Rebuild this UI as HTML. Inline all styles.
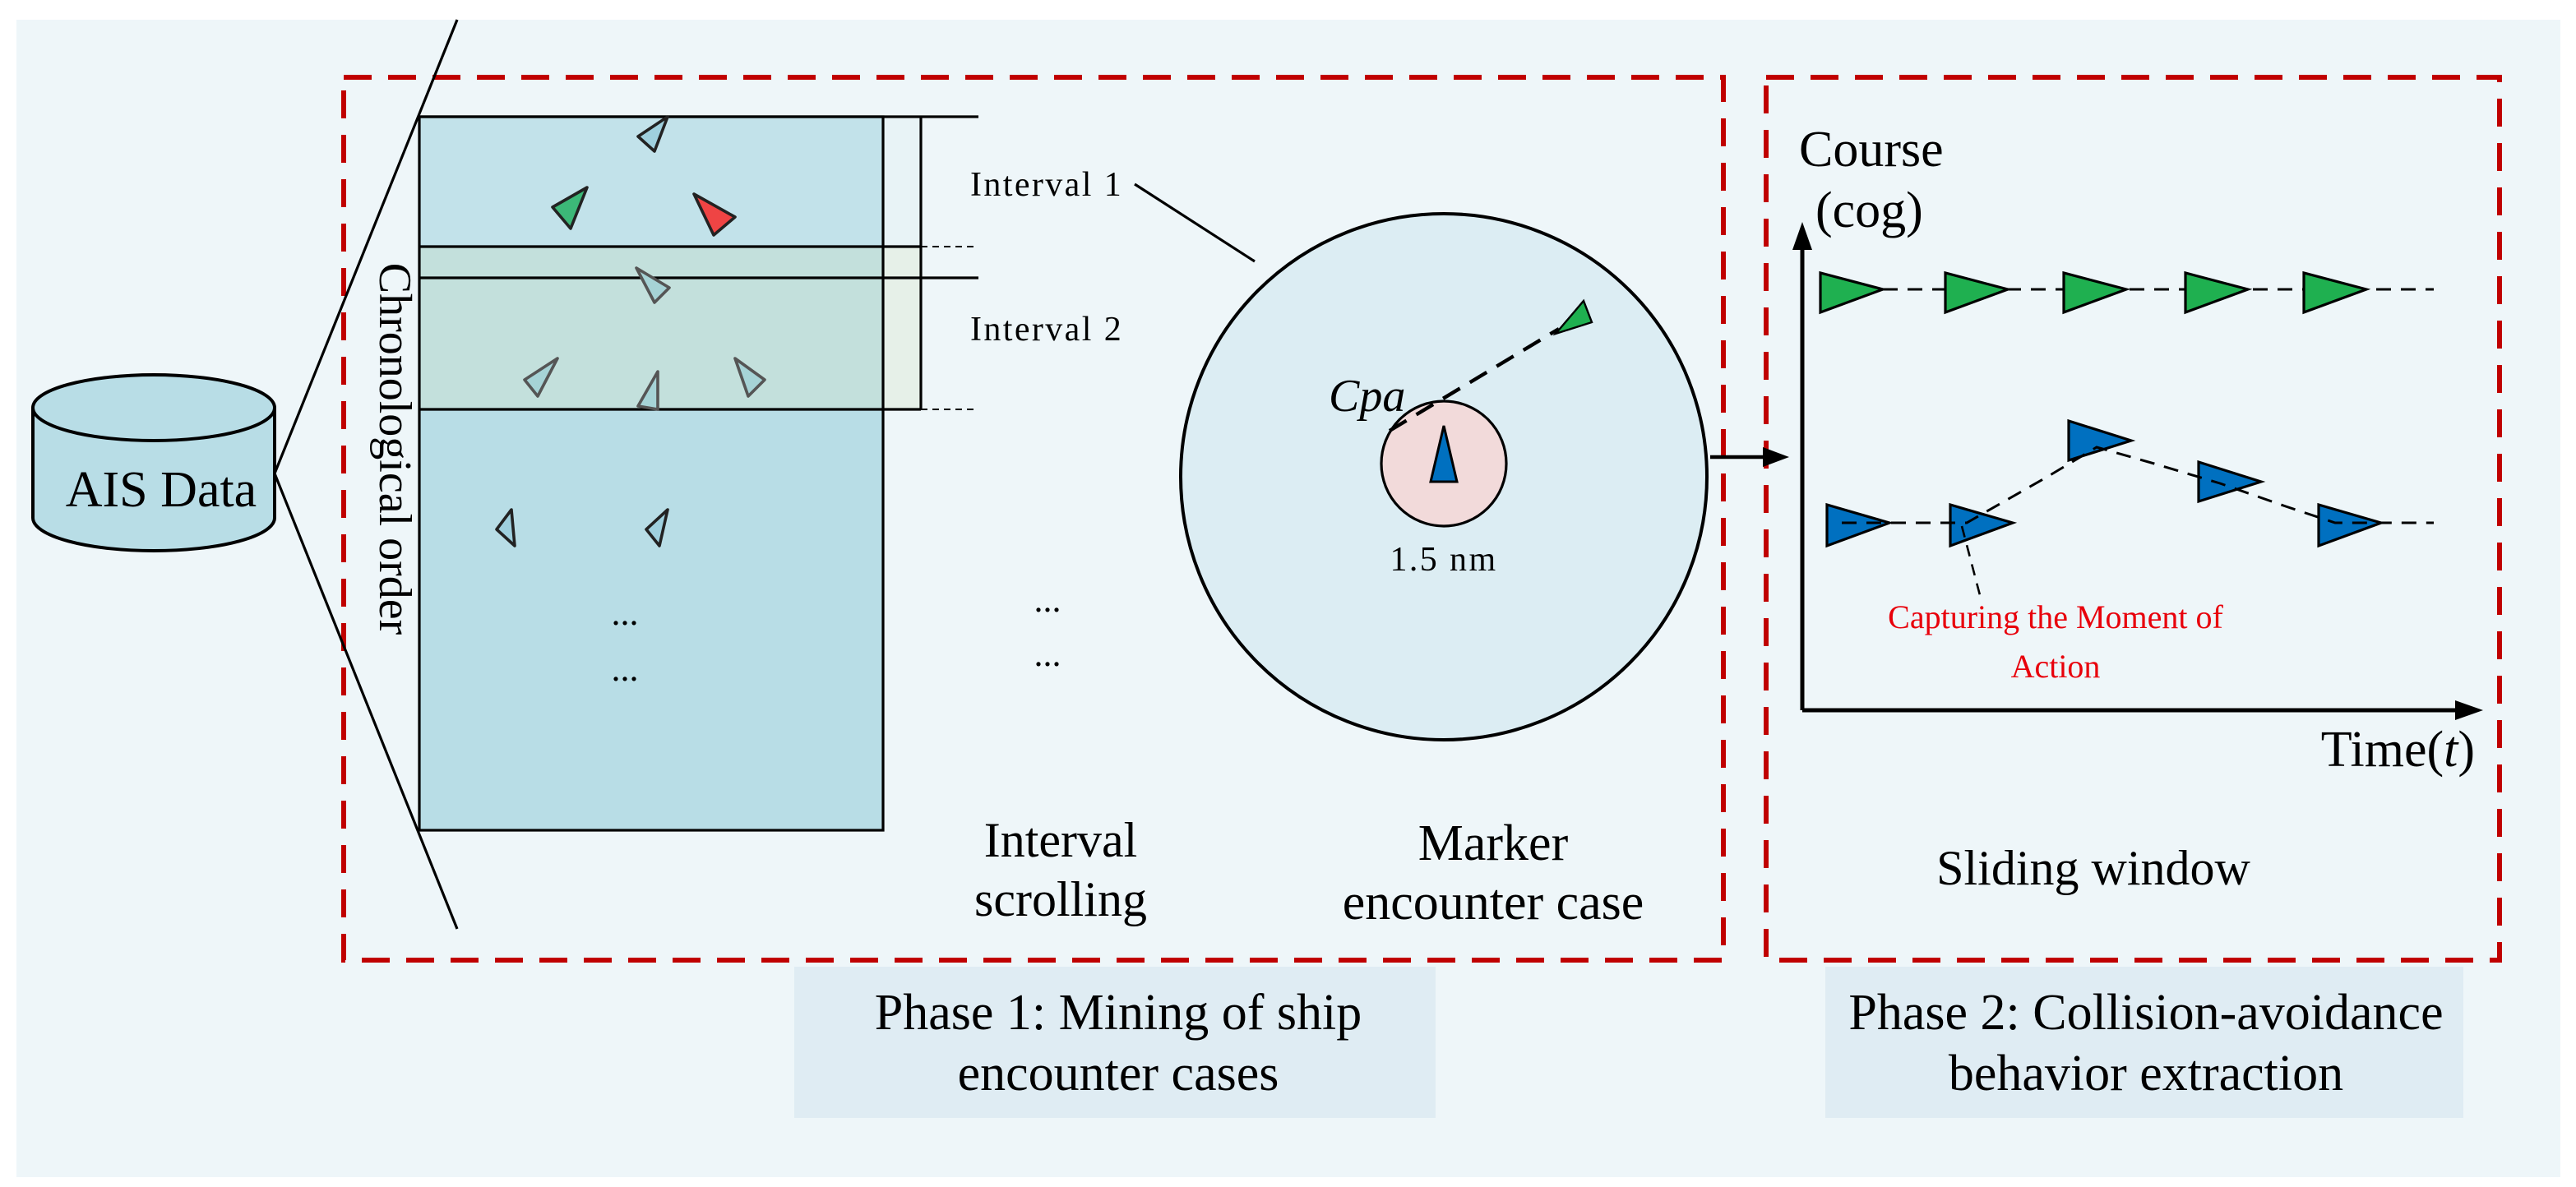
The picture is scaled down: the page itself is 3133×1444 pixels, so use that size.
<!DOCTYPE html>
<html><head><meta charset="utf-8"><style>html,body{margin:0;padding:0;background:#fff}svg{display:block}text{font-family:"Liberation Serif",serif;fill:#000}</style></head>
<body>
<svg width="3133" height="1444" viewBox="0 0 1566.5 722" xmlns="http://www.w3.org/2000/svg">
<rect x="10" y="12" width="1547" height="704" fill="#eef6f9"/>
<g fill="none" stroke="#c00000" stroke-width="3" stroke-dasharray="17 10">
<rect x="209" y="47" width="839" height="537"/>
<rect x="1074" y="47" width="446" height="537"/>
</g>
<path d="M20 248 L20 315 A73.5 20 0 0 0 167 315 L167 248" fill="#b8dde6" stroke="#000" stroke-width="2"/>
<ellipse cx="93.5" cy="248" rx="73.5" ry="20" fill="#b8dde6" stroke="#000" stroke-width="2"/>
<text x="98" y="308" font-size="31" text-anchor="middle">AIS  Data</text>
<line x1="167" y1="288" x2="278" y2="12" stroke="#000" stroke-width="1.6"/>
<line x1="167" y1="288" x2="278" y2="565" stroke="#000" stroke-width="1.6"/>
<rect x="255" y="71" width="282" height="434" fill="#b8dde6"/>
<rect x="255" y="71" width="282" height="79" fill="#c2e2ea"/>
<rect x="537" y="71" width="23" height="79" fill="#e8f3f6"/>
<rect x="255" y="150" width="305" height="99" fill="#c3e0dc"/>
<rect x="537" y="150" width="23" height="99" fill="#e6f0e8"/>
<g stroke="#000" stroke-width="1.6" fill="none">
<rect x="255" y="71" width="282" height="434"/>
<line x1="255" y1="71" x2="595" y2="71"/>
<line x1="255" y1="169" x2="595" y2="169"/>
<line x1="255" y1="150" x2="560" y2="150"/>
<line x1="255" y1="249" x2="560" y2="249"/>
<line x1="560" y1="71" x2="560" y2="249"/>
</g>
<g stroke="#000" stroke-width="1" stroke-dasharray="4 3">
<line x1="560" y1="150" x2="595" y2="150"/><line x1="560" y1="249" x2="595" y2="249"/>
</g>
<text transform="translate(231,273) rotate(90)" font-size="28" text-anchor="middle">Chronological order</text>
<g stroke="#222" stroke-width="1.8" stroke-linejoin="round">
<polygon points="406,71 388,83 398,92" fill="#9fd0de"/>
<polygon points="357,114 336,126 347,139" fill="#3cb878"/>
<polygon points="422,118 447,132 434,143" fill="#ef4444"/>
<polygon points="311,310 302,322 313,332" fill="#9fd0de"/>
<polygon points="406,310 393,322 401,332" fill="#9fd0de"/>
</g>
<g stroke="#555" stroke-width="1.8" stroke-linejoin="round" fill="#a6d3d6">
<polygon points="387,163 407,175 398,184"/>
<polygon points="339,218 319,231 327,241"/>
<polygon points="447,218 465,231 455,241"/>
<polygon points="400,226 388,247 400,249"/>
</g>
<text x="380" y="380" font-size="22" text-anchor="middle">...</text>
<text x="380" y="414" font-size="22" text-anchor="middle">...</text>
<text x="590" y="119" font-size="21" letter-spacing="1.2">Interval 1</text>
<text x="590" y="207" font-size="21" letter-spacing="1.2">Interval 2</text>
<text x="637" y="372" font-size="22" text-anchor="middle">...</text>
<text x="637" y="405" font-size="22" text-anchor="middle">...</text>
<text x="645" y="521" font-size="30" text-anchor="middle">Interval</text>
<text x="645" y="557" font-size="30" text-anchor="middle">scrolling</text>
<text x="908" y="523" font-size="31" text-anchor="middle">Marker</text>
<text x="908" y="559" font-size="31" text-anchor="middle">encounter case</text>
<line x1="690" y1="112" x2="763" y2="159" stroke="#000" stroke-width="1.6"/>
<circle cx="878" cy="290" r="160" fill="#dcedf3" stroke="#000" stroke-width="2"/>
<circle cx="878" cy="282" r="38" fill="#f2dada" stroke="#000" stroke-width="1.6"/>
<line x1="845" y1="262" x2="948" y2="200" stroke="#000" stroke-width="2.2" stroke-dasharray="12 7"/>
<polygon points="946,203 963,183 968,196" fill="#1fb050" stroke="#000" stroke-width="1.2"/>
<polygon points="878,259 870,293 886,293" fill="#0070c0" stroke="#000" stroke-width="1.5"/>
<text x="808" y="250" font-size="28" font-style="italic">Cpa</text>
<text x="878" y="347" font-size="21" text-anchor="middle" letter-spacing="1.2">1.5 nm</text>
<line x1="1040" y1="278" x2="1074" y2="278" stroke="#000" stroke-width="2.2"/>
<polygon points="1072,272 1088,278 1072,284" fill="#000"/>
<line x1="1096" y1="432" x2="1096" y2="150" stroke="#000" stroke-width="2.5"/>
<polygon points="1090,152 1096,135 1102,152" fill="#000"/>
<line x1="1096" y1="432" x2="1495" y2="432" stroke="#000" stroke-width="2.5"/>
<polygon points="1493,426 1510,432 1493,438" fill="#000"/>
<text x="1094" y="101" font-size="31">Course</text>
<text x="1104" y="138" font-size="31">(cog)</text>
<text x="1505" y="466" font-size="31" text-anchor="end">Time(<tspan font-style="italic">t</tspan>)</text>
<line x1="1145" y1="176" x2="1480" y2="176" stroke="#000" stroke-width="1.5" stroke-dasharray="9 6"/>
<g fill="#1fb050" stroke="#000" stroke-width="1.6">
<polygon points="1107,166 1107,190 1145,176"/>
<polygon points="1183,166 1183,190 1221,176"/>
<polygon points="1255,166 1255,190 1293,176"/>
<polygon points="1329,166 1329,190 1367,176"/>
<polygon points="1401,166 1401,190 1439,176"/>
</g>
<g fill="#0070c0" stroke="#000" stroke-width="1.6">
<polygon points="1111,307 1111,332 1149,318"/>
<polygon points="1186,307 1186,332 1224,318"/>
<polygon points="1258,256 1258,280 1296,268"/>
<polygon points="1337,281 1337,305 1375,293"/>
<polygon points="1410,307 1410,332 1448,318"/>
</g>
<polyline points="1120,318 1196,318 1245,290 1275,272 1310,282 1350,294 1390,308 1420,318 1480,318" fill="none" stroke="#000" stroke-width="1.5" stroke-dasharray="9 6"/>
<line x1="1193" y1="320" x2="1204" y2="362" stroke="#000" stroke-width="1.3" stroke-dasharray="7 5"/>
<text x="1250" y="382" font-size="20" text-anchor="middle" style="fill:#e8000b">Capturing the Moment of</text>
<text x="1250" y="412" font-size="20" text-anchor="middle" style="fill:#e8000b">Action</text>
<text x="1273" y="538" font-size="30" text-anchor="middle">Sliding window</text>
<rect x="483" y="588" width="390" height="92" fill="#dfecf3"/>
<rect x="1110" y="588" width="388" height="92" fill="#dfecf3"/>
<text x="680" y="626" font-size="31" text-anchor="middle">Phase 1: Mining of ship</text>
<text x="680" y="663" font-size="31" text-anchor="middle">encounter cases</text>
<text x="1305" y="626" font-size="31" text-anchor="middle">Phase 2:  Collision-avoidance</text>
<text x="1305" y="663" font-size="31" text-anchor="middle">behavior extraction</text>
</svg>
</body></html>
